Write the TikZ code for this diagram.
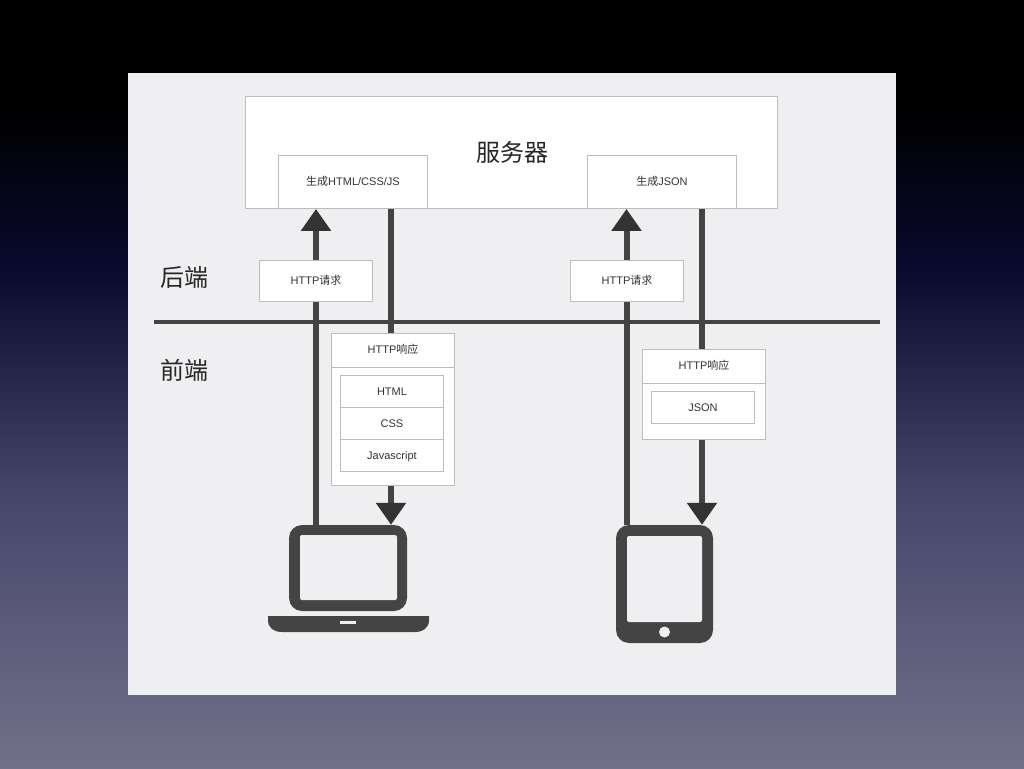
\documentclass[tikz,border=0pt]{standalone}
\usepackage{fontspec}
\setmainfont{Liberation Sans}
\newfontfamily\cjk{Noto Sans CJK SC}
\usetikzlibrary{arrows.meta,backgrounds}
\definecolor{panelgray}{HTML}{EFEFF2}
\definecolor{linegray}{HTML}{444444}
\definecolor{headgray}{HTML}{333333}
\definecolor{boxgray}{HTML}{BDBDBD}
\definecolor{textgray}{HTML}{333333}
\definecolor{navymid}{HTML}{0A0A2E}
\definecolor{slatemid}{HTML}{45456A}
\definecolor{slateend}{HTML}{72718A}
\newcommand{\zh}[1]{{\cjk #1}}
\tikzset{
    box/.style={draw=boxgray, line width=0.9pt, fill=white, inner sep=0pt, text=textgray, text height=8pt, text depth=0pt, font=\fontsize{11}{13}\selectfont},
    zhbox/.style={box, text depth=2pt},
    bigtext/.style={inner sep=0pt, text=black!85, font=\fontsize{24}{28}\selectfont},
    flow/.style={draw=linegray, line width=6pt},
    uptip/.style={flow, -{Triangle[width=29pt,length=22pt,color=headgray]}},
    device/.style={fill=linegray, inner sep=0pt, rounded corners=13pt},
    screen/.style={fill=panelgray, inner sep=0pt, rounded corners=2pt}
}

\begin{document}
\begin{tikzpicture}[x=1pt, y=-1pt]
    \useasboundingbox (0,0) rectangle (1024,768);
    % Fondo
    \begin{pgfonlayer}{background}
        \fill[black] (0,0) rectangle (1024,110);
        \shade[top color=black, bottom color=navymid] (0,110) rectangle (1024,270);
        \shade[top color=navymid, bottom color=slatemid] (0,270) rectangle (1024,490);
        \shade[top color=slatemid, bottom color=slateend] (0,490) rectangle (1024,768);
        \fill[panelgray] (128,73) rectangle (896,695);
    \end{pgfonlayer}
    % Servidor
    \node[box, minimum width=532pt, minimum height=112pt] (server) at (511.5,152.5) {};
    \node[bigtext] (servertext) at (512,152) {\zh{服务器}};
    \node[zhbox, minimum width=149pt, minimum height=53pt] (genpage) at (353,182) {\zh{生成}HTML/CSS/JS};
    \node[zhbox, minimum width=149pt, minimum height=53pt] (genjson) at (662,182) {\zh{生成}JSON};
    % Etiquetas
    \node[bigtext] (backend) at (184.5,277.5) {\zh{后端}};
    \node[bigtext] (frontend) at (184.5,370.5) {\zh{前端}};
    % Peticiones
    \node[zhbox, minimum width=113pt, minimum height=41pt] (reqpage) at (316,281) {HTTP\zh{请求}};
    \node[zhbox, minimum width=113pt, minimum height=41pt] (reqjson) at (627,281) {HTTP\zh{请求}};
    % Respuesta izquierda
    \node[zhbox, minimum width=123pt, minimum height=34pt] (resppage) at (393,350.5) {HTTP\zh{响应}};
    \node[box, minimum width=123pt, minimum height=118pt] (resppagebody) at (393,426.5) {};
    \node[box, minimum width=103pt, minimum height=32pt] (html) at (392,391.5) {HTML};
    \node[box, minimum width=103pt, minimum height=32pt] (css) at (392,423.5) {CSS};
    \node[box, minimum width=103pt, minimum height=32pt] (js) at (392,455.5) {Javascript};
    % Respuesta derecha
    \node[zhbox, minimum width=123pt, minimum height=34pt] (respjson) at (704,366.5) {HTTP\zh{响应}};
    \node[box, minimum width=123pt, minimum height=56pt] (respjsonbody) at (704,411.5) {};
    \node[box, minimum width=103pt, minimum height=32pt] (json) at (703,407.5) {JSON};
    % Portatil
    \node[device, minimum width=118pt, minimum height=86pt] (laptop) at (348,568) {};
    \node[screen, minimum width=97pt, minimum height=65pt] (laptopscreen) at (348.5,567.5) {};
    \fill[linegray] (268,616) -- (429,616) -- (429,620) .. controls (429,628) and (423,632) .. (415,632) -- (282,632) .. controls (274,632) and (268,628) .. (268,620) -- cycle;
    \node[fill=panelgray, inner sep=0pt, minimum width=16pt, minimum height=3pt] (laptopslot) at (348,622.5) {};
    % Tableta
    \node[device, minimum width=97pt, minimum height=118pt] (tablet) at (664.5,584) {};
    \node[screen, minimum width=75pt, minimum height=86pt] (tabletscreen) at (664.5,579) {};
    \node[circle, fill=panelgray, inner sep=0pt, minimum size=11pt] (tabletbutton) at (664.5,632) {};
    % Conexiones
    \coordinate (lineA) at (316,0);
    \coordinate (lineB) at (391,0);
    \coordinate (lineC) at (626.5,0);
    \coordinate (lineD) at (702,0);
    \coordinate (dividerL) at (154,322);
    \coordinate (dividerR) at (880,322);
    \begin{pgfonlayer}{background}
        \draw[draw=linegray, line width=4pt] (dividerL) -- (dividerR);
        \draw[uptip] (lineA |- laptop.north) -- (lineA |- genpage.south);
        \draw[flow] (lineB |- genpage.south) -- (lineB |- resppage.north);
        \draw[uptip] (lineB |- resppagebody.south) -- (lineB |- laptop.north);
        \draw[uptip] (lineC |- tablet.north) -- (lineC |- genjson.south);
        \draw[flow] (lineD |- genjson.south) -- (lineD |- respjson.north);
        \draw[uptip] (lineD |- respjsonbody.south) -- (lineD |- tablet.north);
    \end{pgfonlayer}
\end{tikzpicture}
\end{document}
